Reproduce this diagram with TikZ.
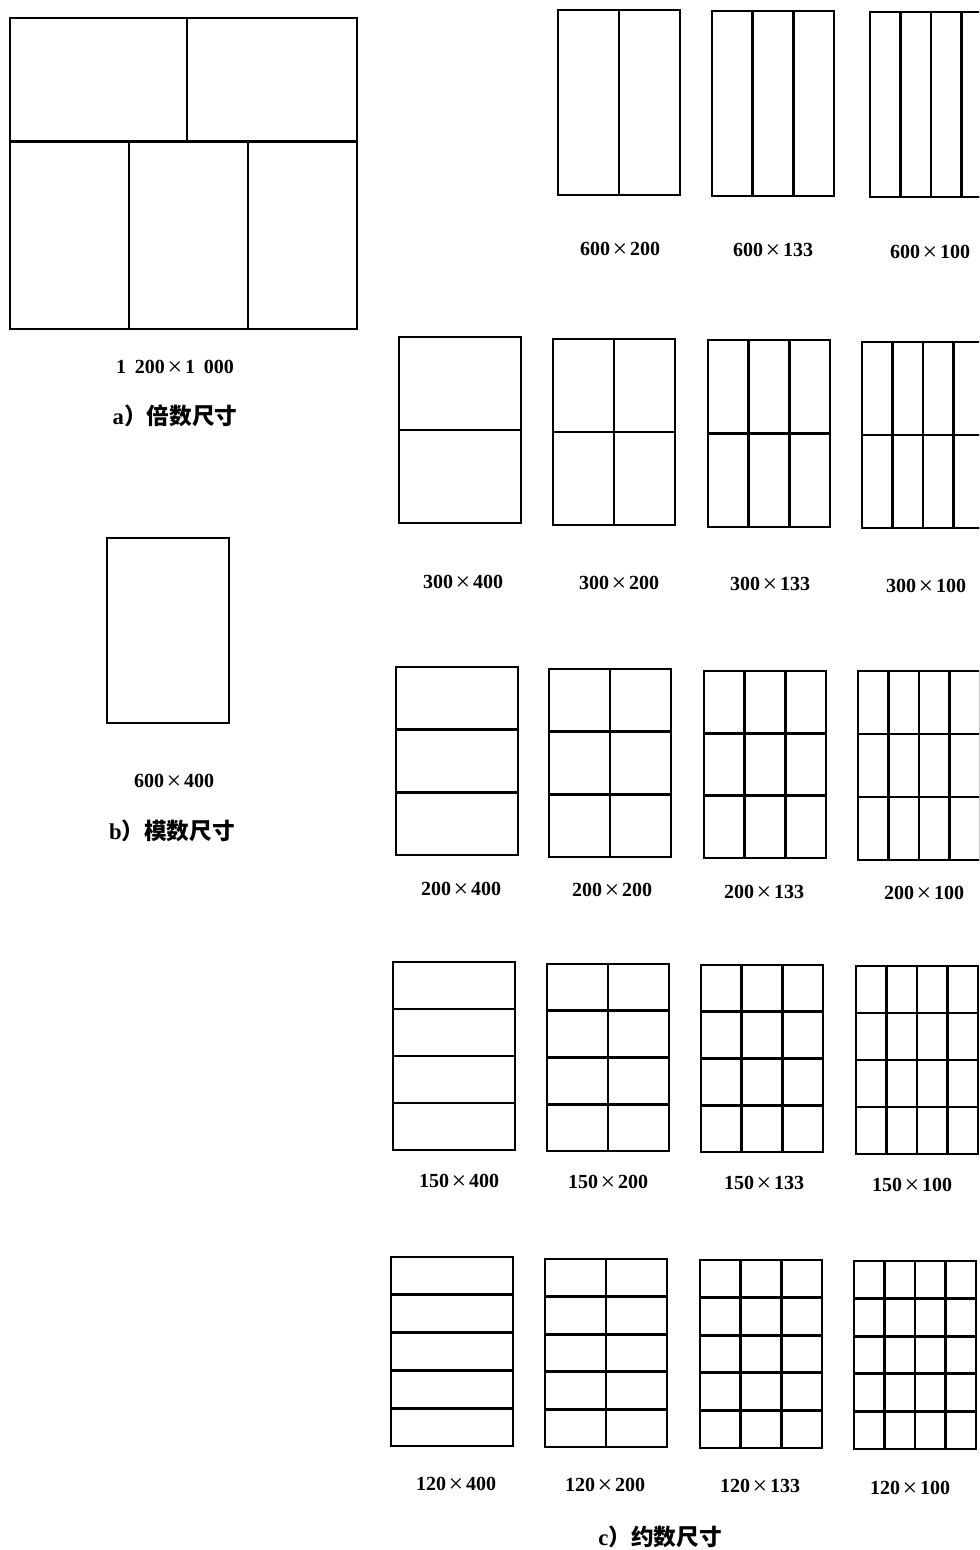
\documentclass[tikz,border=0pt]{standalone}
\usepackage{fontspec}
\usepackage{graphicx}
\setmainfont{Liberation Serif}
\newfontfamily\cjk{Noto Sans CJK SC}
\newcommand\tms{\makebox[1em]{\raisebox{-0.08em}{\scalebox{1.3}{\mdseries×}}}}
\tikzset{
  box/.style={draw=black,line width=2.1pt,line join=miter},
  gline/.style={draw=black,line width=2.1pt},
  lbl/.style={font=\fontsize{15}{15}\selectfont\bfseries,inner sep=0pt,anchor=center},
  capt/.style={font=\fontsize{17}{17}\selectfont\cjk\bfseries,inner sep=0pt,anchor=center}
}
% #1 x left, #2 y top, #3 y bottom, #4 cols, #5 rows
\newcommand\pnl[5]{%
  \foreach \i in {1,...,#4}{\draw[gline] ({#1+122*\i/#4},#2) -- ({#1+122*\i/#4},#3);}
  \foreach \j in {1,...,#5}{\draw[gline] (#1,{#2+(#3-#2)*\j/#5}) -- ({#1+122},{#2+(#3-#2)*\j/#5});}
  \draw[box] (#1,#2) rectangle ({#1+122},#3);
}
\begin{document}
\begin{tikzpicture}[x=0.75pt,y=-0.75pt]
\useasboundingbox (0,0) rectangle (979,1550);
\fill[white] (0,0) rectangle (979,1550);
\clip (0,0) rectangle (979,1550);
% a) multiple size
\draw[gline] (10,141.5) -- (357,141.5);
\draw[gline] (187,18) -- (187,141.5);
\draw[gline] (129,141.5) -- (129,329);
\draw[gline] (248,141.5) -- (248,329);
\draw[box] (10,18) rectangle (357,329);
\node[lbl] (la) at (175,368) {1\hspace{0.45em}200\tms 1\hspace{0.45em}000};
\node[capt] (ca) at (175,416) {{\fontspec{Liberation Serif}a}）倍数尺寸};
% b) module size
\draw[box] (107,538) rectangle (229,723);
\node[lbl] (lb) at (174,782) {600\tms 400};
\node[capt] (cb) at (172,831) {{\fontspec{Liberation Serif}b}）模数尺寸};
% c) divisor sizes
% row 1
\pnl{558}{10}{195}{2}{1}
\pnl{712}{11}{196}{3}{1}
\pnl{870}{12}{197}{4}{1}
\node[lbl] (l12) at (620,250) {600\tms 200};
\node[lbl] (l13) at (773,251) {600\tms 133};
\node[lbl] (l14) at (930,253) {600\tms 100};
% row 2
\pnl{399}{337}{523}{1}{2}
\pnl{553}{339}{525}{2}{2}
\pnl{708}{340}{527}{3}{2}
\pnl{862}{342}{528}{4}{2}
\node[lbl] (l21) at (463,583) {300\tms 400};
\node[lbl] (l22) at (619,584) {300\tms 200};
\node[lbl] (l23) at (770,585) {300\tms 133};
\node[lbl] (l24) at (926,587) {300\tms 100};
% row 3
\pnl{396}{667}{855}{1}{3}
\pnl{549}{669}{857}{2}{3}
\pnl{704}{671}{858}{3}{3}
\pnl{858}{671}{860}{4}{3}
\node[lbl] (l31) at (461,890) {200\tms 400};
\node[lbl] (l32) at (612,891) {200\tms 200};
\node[lbl] (l33) at (764,893) {200\tms 133};
\node[lbl] (l34) at (924,894) {200\tms 100};
% row 4
\pnl{393}{962}{1150}{1}{4}
\pnl{547}{964}{1151}{2}{4}
\pnl{701}{965}{1152}{3}{4}
\pnl{856}{966}{1154}{4}{4}
\node[lbl] (l41) at (459,1182) {150\tms 400};
\node[lbl] (l42) at (608,1183) {150\tms 200};
\node[lbl] (l43) at (764,1184) {150\tms 133};
\node[lbl] (l44) at (912,1186) {150\tms 100};
% row 5
\pnl{391}{1257}{1446}{1}{5}
\pnl{545}{1259}{1447}{2}{5}
\pnl{700}{1260}{1448}{3}{5}
\pnl{854}{1261}{1449}{4}{5}
\node[lbl] (l51) at (456,1485) {120\tms 400};
\node[lbl] (l52) at (605,1486) {120\tms 200};
\node[lbl] (l53) at (760,1487) {120\tms 133};
\node[lbl] (l54) at (910,1489) {120\tms 100};
\node[capt] (cc) at (660,1537) {{\fontspec{Liberation Serif}c}）约数尺寸};
\end{tikzpicture}
\end{document}
